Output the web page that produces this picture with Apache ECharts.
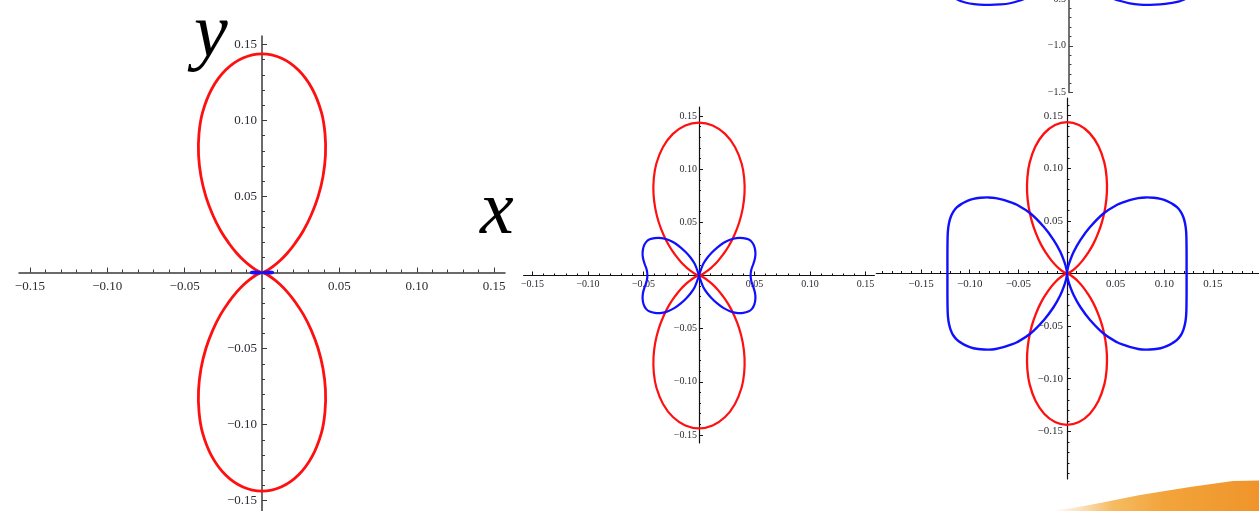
<!DOCTYPE html>
<html>
<head>
<meta charset="utf-8">
<script src="https://cdn.jsdelivr.net/npm/echarts@6/dist/echarts.min.js"></script>
<style>
  html, body { margin: 0; padding: 0; background: #fff; }
  #chart { width: 1259px; height: 511px; }
</style>
</head>
<body>
<div id="chart"></div>
<script>
// ---- tick labels ----
const mainTicks = [-0.15, -0.10, -0.05, 0.05, 0.10, 0.15];
const farTicks = [-1.5, -1.0, -0.5];

// ---- one quadrant (x >= 0, y >= 0) of each pattern, traced from the origin ----
// red: vertical lobe, origin -> top of the lobe
const redLobe = [
  [0, 0], [0.0013, 0.0004], [0.0042, 0.0019], [0.0078, 0.0045], [0.0117, 0.0079],
  [0.0163, 0.0127], [0.0214, 0.0193], [0.0268, 0.0277], [0.0318, 0.0379],
  [0.0362, 0.0498], [0.0394, 0.0631], [0.0410, 0.0772], [0.0407, 0.0915],
  [0.0384, 0.1054], [0.0324, 0.1209], [0.0235, 0.1332], [0.0123, 0.1411], [0, 0.1438]
];
// blue, middle plot: origin -> right end on the x axis
const blueNarrow = [
  [0, 0], [0.0015, 0.0047], [0.0039, 0.011], [0.0075, 0.0167], [0.0114, 0.0214],
  [0.0159, 0.0258], [0.0219, 0.0305], [0.0279, 0.0336], [0.0336, 0.0352],
  [0.0399, 0.0352], [0.0444, 0.034], [0.0477, 0.0314], [0.0498, 0.0274],
  [0.0508, 0.022], [0.0505, 0.0167], [0.049, 0.011], [0.0471, 0.0053], [0.0465, 0]
];
// blue, right plot: origin -> right end on the x axis
const blueWide = [
  [0, 0], [0.0007, 0.0048], [0.0027, 0.0111], [0.0069, 0.0207], [0.0137, 0.0318],
  [0.0241, 0.0446], [0.0378, 0.0573], [0.0515, 0.0653], [0.0584, 0.0678],
  [0.0653, 0.07], [0.0732, 0.0717], [0.0808, 0.0723], [0.0887, 0.072],
  [0.0962, 0.071], [0.1024, 0.069], [0.1082, 0.0662], [0.113, 0.063],
  [0.1168, 0.0589], [0.1196, 0.0535], [0.1213, 0.0478], [0.1223, 0.0414],
  [0.1227, 0.035], [0.1229, 0.0191], [0.1229, 0.0096], [0.1229, 0]
];
// blue, left plot (barely visible at the origin)
const blueTiny = [[0, 0], [0.003, 0.0006], [0.0065, 0.0005], [0.0072, 0]];
// bottoms of the two blue lobes in the clipped upper plot
const blueFarLeft = [
  [-1.30, -0.42], [-1.24, -0.49], [-1.17, -0.525], [-1.08, -0.548], [-0.97, -0.56],
  [-0.86, -0.563], [-0.75, -0.558], [-0.64, -0.545], [-0.55, -0.522], [-0.47, -0.49], [-0.40, -0.42]
];
const blueFarRight = [
  [0.40, -0.42], [0.47, -0.49], [0.56, -0.522], [0.66, -0.546], [0.77, -0.56],
  [0.88, -0.563], [0.99, -0.558], [1.10, -0.545], [1.20, -0.525], [1.28, -0.49], [1.34, -0.42]
];

// ---- closed curves from a quadrant ----
const flip = (pts, sx, sy) => pts.map(p => [sx * p[0], sy * p[1]]);
const rev = pts => pts.slice().reverse();
function verticalEight(q) {
  return [].concat(q, rev(flip(q, -1, 1)).slice(1), flip(q, 1, -1).slice(1), rev(flip(q, -1, -1)).slice(1));
}
function horizontalEight(q) {
  return [].concat(q, rev(flip(q, 1, -1)).slice(1), flip(q, -1, 1).slice(1), rev(flip(q, -1, -1)).slice(1));
}

function minorValues(lo, hi, step, majors) {
  const out = [];
  for (let k = Math.ceil(lo / step - 1e-9); k <= Math.floor(hi / step + 1e-9); k++) {
    const v = +(k * step).toFixed(4);
    if (Math.abs(v) < 1e-9) continue;
    if (majors.some(m => Math.abs(m - v) < 1e-9)) continue;
    out.push(v);
  }
  return out;
}
const fmt = d => v => (Math.abs(v) < 1e-9 ? '' : (v < 0 ? '\u2212' : '') + Math.abs(v).toFixed(d));

const panels = [
  { left: 19, top: 36, width: 486, height: 495, x: [-0.157, 0.157], y: [-0.17, 0.1556],
    font: 13, axisColor: '#3a3a3a', axisWidth: 1.5, major: 5, minor: 3, xm: 8, ym: 5,
    xTicks: mainTicks, yTicks: mainTicks, step: 0.01, digits: 2, showX: true },
  { left: 523.6, top: 107, width: 350.8, height: 336, x: [-0.158, 0.158], y: [-0.1576, 0.1585],
    font: 10, axisColor: '#111', axisWidth: 1.2, major: 4, minor: 2, xm: 4, ym: 2,
    xTicks: mainTicks, yTicks: mainTicks, step: 0.01, digits: 2, showX: true },
  { left: 876.3, top: 98, width: 385.3, height: 381, x: [-0.196, 0.2], y: [-0.1953, 0.1668],
    font: 11, axisColor: '#111', axisWidth: 1.2, major: 4, minor: 2.5, xm: 5, ym: 4,
    xTicks: mainTicks, yTicks: mainTicks, step: 0.01, digits: 2, showX: true },
  { left: 885, top: -1, width: 368, height: 93.5, x: [-2, 2], y: [-1.5, -0.5],
    font: 10, axisColor: '#444', axisWidth: 1.5, major: 4, minor: 2.5, xm: 4, ym: 3,
    xTicks: [], yTicks: farTicks, step: 0.1, digits: 1, showX: false }
];

const grid = [], xAxis = [], yAxis = [];
panels.forEach((p, i) => {
  grid.push({ left: p.left, top: p.top, width: p.width, height: p.height,
              containLabel: false, outerBoundsMode: 'none' });
  // axes cross at the origin: shift them inward from the grid edges
  const xOff = p.y[0] < 0 && p.y[1] > 0 ? -p.height * (0 - p.y[0]) / (p.y[1] - p.y[0]) : 0;
  const yOff = -p.width * (0 - p.x[0]) / (p.x[1] - p.x[0]);
  const labelStyle = { fontFamily: 'Liberation Serif', fontSize: p.font, color: '#2b2b33' };
  const lineStyle = { color: p.axisColor, width: p.axisWidth };
  const tickStyle = { color: p.axisColor, width: 1 };
  xAxis.push({
    type: 'value', gridIndex: i, min: p.x[0], max: p.x[1], position: 'bottom', offset: xOff,
    axisLine: { show: p.showX, onZero: false, lineStyle },
    axisTick: { show: p.showX, inside: true, length: p.major, customValues: p.xTicks, lineStyle: tickStyle },
    axisLabel: { show: p.showX, customValues: p.xTicks, formatter: fmt(p.digits), margin: p.xm, ...labelStyle },
    splitLine: { show: false }
  });
  xAxis.push({
    type: 'value', gridIndex: i, min: p.x[0], max: p.x[1], position: 'bottom', offset: xOff,
    axisLine: { show: false, onZero: false },
    axisTick: { show: p.showX, inside: true, length: p.minor,
                customValues: p.showX ? minorValues(p.x[0], p.x[1], p.step, p.xTicks) : [], lineStyle: tickStyle },
    axisLabel: { show: false }, splitLine: { show: false }
  });
  yAxis.push({
    type: 'value', gridIndex: i, min: p.y[0], max: p.y[1], position: 'left', offset: yOff,
    axisLine: { show: true, onZero: false, lineStyle },
    axisTick: { show: true, inside: true, length: p.major, customValues: p.yTicks, lineStyle: tickStyle },
    axisLabel: { show: true, customValues: p.yTicks, formatter: fmt(p.digits), margin: p.ym, ...labelStyle },
    splitLine: { show: false }
  });
  yAxis.push({
    type: 'value', gridIndex: i, min: p.y[0], max: p.y[1], position: 'left', offset: yOff,
    axisLine: { show: false, onZero: false },
    axisTick: { show: true, inside: true, length: p.minor,
                customValues: minorValues(p.y[0], p.y[1], p.step, p.yTicks), lineStyle: tickStyle },
    axisLabel: { show: false }, splitLine: { show: false }
  });
});

const RED = '#ff1010', BLUE = '#1010ff';
// smooth curve through the traced points, placed with the panel's axes
function curve(panel, pts, color, width) {
  return {
    type: 'custom', coordinateSystem: 'cartesian2d',
    xAxisIndex: 2 * panel, yAxisIndex: 2 * panel,
    data: [[0, 0]], silent: true, z: 3,
    renderItem: (params, api) => ({
      type: 'polyline',
      shape: { points: pts.map(p => api.coord(p)), smooth: 0.4 },
      style: { stroke: color, lineWidth: width, fill: null, lineJoin: 'round', lineCap: 'round' }
    })
  };
}

const series = [
  curve(0, verticalEight(redLobe), RED, 2.8),
  curve(0, horizontalEight(blueTiny), BLUE, 2),
  curve(1, verticalEight(redLobe), RED, 2.2),
  curve(1, horizontalEight(blueNarrow), BLUE, 2.2),
  curve(2, verticalEight(redLobe), RED, 2.3),
  curve(2, horizontalEight(blueWide), BLUE, 2.4),
  curve(3, blueFarLeft, BLUE, 2.2),
  curve(3, blueFarRight, BLUE, 2.2)
];

const chart = echarts.init(document.getElementById('chart'), null, { renderer: 'canvas' });
chart.setOption({
  backgroundColor: '#ffffff',
  animation: false,
  grid, xAxis, yAxis, series,
  graphic: [
    { type: 'polygon', z: 0,
      shape: { points: [[1050, 511], [1073, 508], [1100, 503], [1140, 495], [1190, 487], [1233, 481], [1259, 480.5], [1259, 511]] },
      style: { fill: new echarts.graphic.LinearGradient(0, 0, 1, 0, [
        { offset: 0, color: '#ffffff' }, { offset: 0.14, color: '#fbe2bf' },
        { offset: 0.3, color: '#f6bb62' }, { offset: 0.55, color: '#f2a43a' },
        { offset: 1, color: '#ef942b' }]) } },
    { type: 'text', x: 194, y: 36, z: 10,
      style: { text: 'y', font: 'italic 76px "Liberation Serif"', fill: '#000', align: 'left', verticalAlign: 'middle' } },
    { type: 'text', x: 480, y: 213, z: 10,
      style: { text: 'x', font: 'italic 76px "Liberation Serif"', fill: '#000', align: 'left', verticalAlign: 'middle' } }
  ]
});
</script>
</body>
</html>
